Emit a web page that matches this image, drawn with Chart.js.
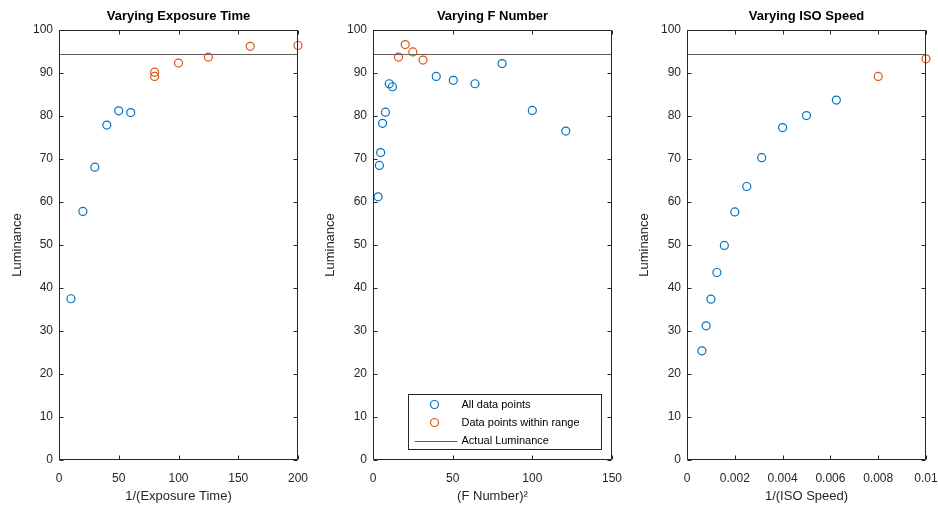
<!DOCTYPE html>
<html>
<head>
<meta charset="utf-8">
<script src="https://cdn.jsdelivr.net/npm/chart.js@4.4.1/dist/chart.umd.min.js"></script>
<style>
  body { margin: 0; background: #fff; width: 938px; height: 511px; position: relative; overflow: hidden; }
  canvas { position: absolute; top: 0; }
</style>
</head>
<body>
<canvas id="c1" width="313" height="511" style="left:0px"></canvas>
<canvas id="c2" width="314" height="511" style="left:313px"></canvas>
<canvas id="c3" width="311" height="511" style="left:627px"></canvas>
<script>
// values
const expAllX = [10, 20, 30, 40, 50, 60];
const expAllY = [37.5, 57.8, 68.1, 77.9, 81.2, 80.8];
const expInX = [80, 80, 100, 125, 160, 200];
const expInY = [90.2, 89.2, 92.3, 93.7, 96.2, 96.4];

const fnAllX = [3.2, 4, 4.8, 6, 7.8, 10.2, 12.2, 39.7, 50.4, 64, 81, 100, 121];
const fnAllY = [61.2, 68.5, 71.5, 78.3, 80.9, 87.5, 86.8, 89.2, 88.3, 87.5, 92.2, 81.3, 76.5];
const fnInX = [16, 20.2, 25, 31.4];
const fnInY = [93.7, 96.6, 94.9, 93.0];

const isoAllX = [0.000625, 0.0008, 0.001, 0.00125, 0.0015625, 0.002, 0.0025, 0.003125, 0.004, 0.005, 0.00625];
const isoAllY = [25.4, 31.2, 37.4, 43.6, 49.9, 57.7, 63.6, 70.3, 77.3, 80.1, 83.7];
const isoInX = [0.008, 0.01];
const isoInY = [89.2, 93.3];

const refLum = 94.3;

const titles = ['Varying Exposure Time', 'Varying F Number', 'Varying ISO Speed'];
const xLabels = ['1/(Exposure Time)', '(F Number)\u00B2', '1/(ISO Speed)'];
const yLabel = 'Luminance';
const xRanges = [[0, 200, 50], [0, 150, 50], [0, 0.01, 0.002]];
const yRange = [0, 100, 10];
const legendLabels = ['All data points', 'Data points within range', 'Actual Luminance'];

const BLUE = '#0072BD';
const RED = '#D95319';
const AX = '#262626';
const FONT = "'Liberation Sans', Arial, sans-serif";

Chart.defaults.font.family = FONT;
Chart.defaults.color = AX;

const pts = (xs, ys) => xs.map((x, i) => ({ x: x, y: ys[i] }));

// box around the axes with inward ticks on all four sides, plus title
const matBox = {
  id: 'matBox',
  afterDatasetsDraw(chart, args, opts) {
    const { ctx, chartArea: a, scales: { x, y } } = chart;
    ctx.save();
    ctx.strokeStyle = AX;
    ctx.lineWidth = 1;
    const L = Math.round(a.left) + 0.5, R = Math.round(a.right) - 0.5;
    const T = Math.round(a.top) + 0.5, B = Math.round(a.bottom) - 0.5;
    ctx.beginPath();
    ctx.moveTo(L, T); ctx.lineTo(R, T); ctx.lineTo(R, B); ctx.lineTo(L, B); ctx.closePath();
    const tl = 4;
    x.ticks.forEach(t => {
      const px = Math.round(x.getPixelForValue(t.value)) + 0.5;
      ctx.moveTo(px, B); ctx.lineTo(px, B - tl);
      ctx.moveTo(px, T); ctx.lineTo(px, T + tl);
    });
    y.ticks.forEach(t => {
      const py = Math.round(y.getPixelForValue(t.value)) + 0.5;
      ctx.moveTo(L, py); ctx.lineTo(L + tl, py);
      ctx.moveTo(R, py); ctx.lineTo(R - tl, py);
    });
    ctx.stroke();
    ctx.fillStyle = '#000';
    ctx.font = 'bold 13px ' + FONT;
    ctx.textAlign = 'center';
    ctx.textBaseline = 'middle';
    ctx.fillText(opts.title, (a.left + a.right) / 2, 16);
    ctx.restore();
  }
};

// legend box inside the axes (middle panel only)
const matLegend = {
  id: 'matLegend',
  afterDraw(chart, args, opts) {
    if (!opts.show) return;
    const { ctx, chartArea: a } = chart;
    const bx = Math.round(a.left + 35) + 0.5, by = Math.round(a.top + 364) + 0.5;
    const bw = 193, bh = 55;
    ctx.save();
    ctx.fillStyle = '#fff';
    ctx.fillRect(bx, by, bw, bh);
    ctx.strokeStyle = AX;
    ctx.lineWidth = 1;
    ctx.strokeRect(bx, by, bw, bh);
    ctx.font = '11px ' + FONT;
    ctx.textBaseline = 'middle';
    ctx.textAlign = 'left';
    chart.data.datasets.forEach((ds, i) => {
      const yy = by + 10 + i * 18;
      if (ds.showLine) {
        ctx.strokeStyle = ds.borderColor;
        ctx.beginPath();
        ctx.moveTo(bx + 6, Math.round(yy) + 0.5);
        ctx.lineTo(bx + 49, Math.round(yy) + 0.5);
        ctx.stroke();
      } else {
        ctx.strokeStyle = ds.borderColor;
        ctx.lineWidth = 1.2;
        ctx.beginPath();
        ctx.arc(bx + 26, yy, 4, 0, Math.PI * 2);
        ctx.stroke();
        ctx.lineWidth = 1;
      }
      ctx.fillStyle = '#000';
      ctx.fillText(ds.label, bx + 53, yy + 0.5);
    });
    ctx.restore();
  }
};

function makePanel(id, idx, allX, allY, inX, inY, yAxisW, padRight) {
  const [xmin, xmax, xstep] = xRanges[idx];
  return new Chart(id, {
    type: 'scatter',
    data: {
      datasets: [
        {
          label: legendLabels[0],
          data: pts(allX, allY),
          borderColor: BLUE,
          backgroundColor: 'rgba(0,0,0,0)',
          pointRadius: 4,
          borderWidth: 1.2,
          clip: false
        },
        {
          label: legendLabels[1],
          data: pts(inX, inY),
          borderColor: RED,
          backgroundColor: 'rgba(0,0,0,0)',
          pointRadius: 4,
          borderWidth: 1.2,
          clip: false
        },
        {
          label: legendLabels[2],
          data: [{ x: xmin, y: refLum }, { x: xmax, y: refLum }],
          showLine: true,
          borderColor: '#5e5e5e',
          borderWidth: 1,
          pointRadius: 0
        }
      ]
    },
    plugins: [matBox, matLegend],
    options: {
      responsive: false,
      animation: false,
      events: [],
      layout: { padding: { top: 30, right: padRight, bottom: 0, left: 0 } },
      plugins: {
        legend: { display: false },
        tooltip: { enabled: false },
        matBox: { title: titles[idx] },
        matLegend: { show: idx === 1 }
      },
      scales: {
        x: {
          type: 'linear',
          min: xmin,
          max: xmax,
          grid: { display: false, drawTicks: false },
          border: { display: false },
          ticks: {
            stepSize: xstep,
            padding: 11,
            font: { size: 12 },
            color: AX,
            maxRotation: 0,
            callback: v => String(Number(v.toPrecision(6)))
          },
          title: { display: true, text: xLabels[idx], font: { size: 13 }, color: AX, padding: { top: 0, bottom: 7 } },
          afterFit: s => { s.height = 51; s.paddingLeft = 0; s.paddingRight = 0; }
        },
        y: {
          type: 'linear',
          min: yRange[0],
          max: yRange[1],
          grid: { display: false, drawTicks: false },
          border: { display: false },
          ticks: { stepSize: yRange[2], padding: 6, font: { size: 12 }, color: AX },
          title: { display: true, text: yLabel, font: { size: 13 }, color: AX, padding: { top: 10, bottom: 0 } },
          afterFit: s => { s.width = yAxisW; s.paddingTop = 0; s.paddingBottom = 0; }
        }
      }
    }
  });
}

makePanel('c1', 0, expAllX, expAllY, expInX, expInY, 59, 15);
makePanel('c2', 1, fnAllX, fnAllY, fnInX, fnInY, 60, 15);
makePanel('c3', 2, isoAllX, isoAllY, isoInX, isoInY, 60, 12);
</script>
</body>
</html>
